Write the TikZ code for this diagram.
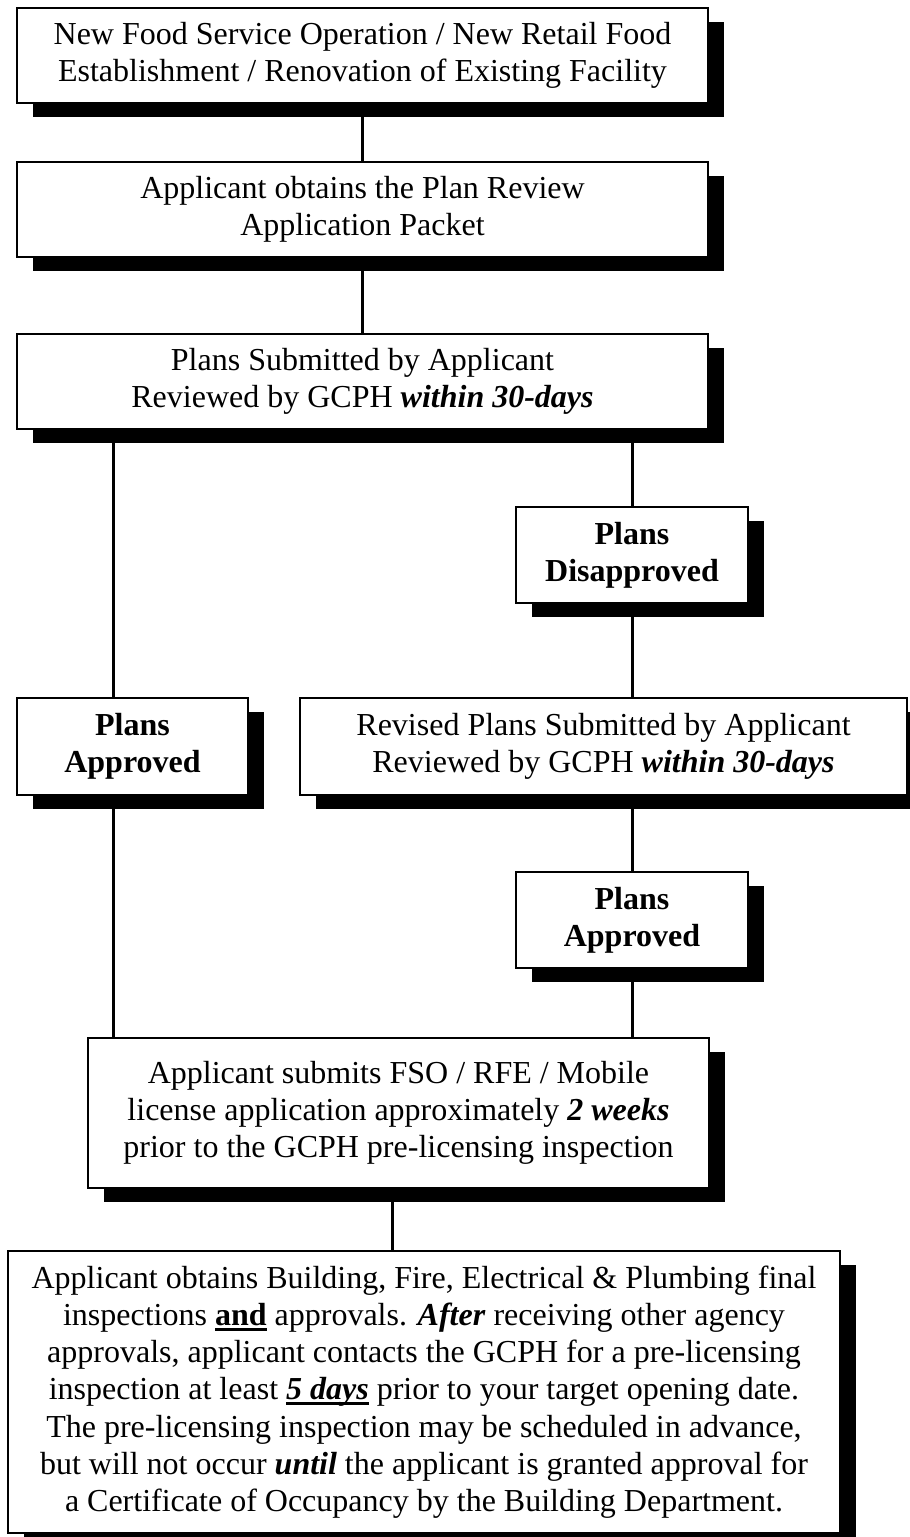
\documentclass[tikz,border=0pt]{standalone}
\usepackage{fontspec}
\setmainfont{Liberation Serif}
\usetikzlibrary{shadows}
\newcommand\thickul[1]{\setbox0\hbox{#1}\rlap{\rule[-2.6pt]{\wd0}{1.3pt}}\box0\relax}
\begin{document}
\begin{tikzpicture}[x=0.5pt,y=-0.5pt,
  box/.style={draw=black,line width=0.9pt,fill=white,inner sep=0pt,align=center,
    font=\fontsize{16pt}{18.6pt}\selectfont,
    drop shadow={shadow xshift=8pt,shadow yshift=-7pt,opacity=1,fill=black}},
  conn/.style={line width=1.5pt}]
\useasboundingbox (0,0) rectangle (910,1537);
\node[box,minimum width=345.5pt,minimum height=47.5pt] (n1) at (362.5,55.5)
  {New Food Service Operation / New Retail Food\\Establishment / Renovation of Existing Facility};
\node[box,minimum width=345.5pt,minimum height=47.5pt] (n2) at (362.5,209.5)
  {Applicant obtains the Plan Review\\Application Packet};
\node[box,minimum width=345.5pt,minimum height=47.5pt] (n3) at (362.5,381.5)
  {Plans Submitted by Applicant\\Reviewed by GCPH \textbf{\textit{within 30-days}}};
\node[box,minimum width=116pt,minimum height=48pt] (dis) at (632,555)
  {\textbf{Plans}\\\textbf{Disapproved}};
\node[box,minimum width=115.5pt,minimum height=48.5pt] (apL) at (132.5,746.5)
  {\textbf{Plans}\\\textbf{Approved}};
\node[box,minimum width=303.5pt,minimum height=48.5pt] (rev) at (603.5,746.5)
  {Revised Plans Submitted by Applicant\\Reviewed by GCPH \textbf{\textit{within 30-days}}};
\node[box,minimum width=116pt,minimum height=48pt] (apR) at (632,920)
  {\textbf{Plans}\\\textbf{Approved}};
\node[box,minimum width=310.5pt,minimum height=75pt] (fso) at (398.5,1113)
  {Applicant submits FSO / RFE / Mobile\\license application approximately \textbf{\textit{2 weeks}}\\prior to the GCPH pre-licensing inspection};
\node[box,minimum width=416pt,minimum height=141pt] (fin) at (424,1392)
  {Applicant obtains Building, Fire, Electrical \& Plumbing final\\
   inspections \thickul{\textbf{and}} approvals. \textbf{\textit{After}} receiving other agency\\
   approvals, applicant contacts the GCPH for a pre-licensing\\
   inspection at least \thickul{\textbf{\textit{5 days}}} prior to your target opening date.\\
   The pre-licensing inspection may be scheduled in advance,\\
   but will not occur \textbf{\textit{until}} the applicant is granted approval for\\
   a Certificate of Occupancy by the Building Department.};
\coordinate (xl) at (113,0);
\coordinate (xr) at (632,0);
\coordinate (xb) at (392,0);
\draw[conn] (n1.south) -- (n2.north);
\draw[conn] (n2.south) -- (n3.north);
\draw[conn] (n3.south -| xl) -- (apL.north -| xl);
\draw[conn] (n3.south -| xr) -- (dis.north);
\draw[conn] (dis.south) -- (rev.north -| xr);
\draw[conn] (rev.south -| xr) -- (apR.north);
\draw[conn] (apR.south) -- (fso.north -| xr);
\draw[conn] (apL.south -| xl) -- (fso.north -| xl);
\draw[conn] (fso.south -| xb) -- (fin.north -| xb);
\end{tikzpicture}
\end{document}
